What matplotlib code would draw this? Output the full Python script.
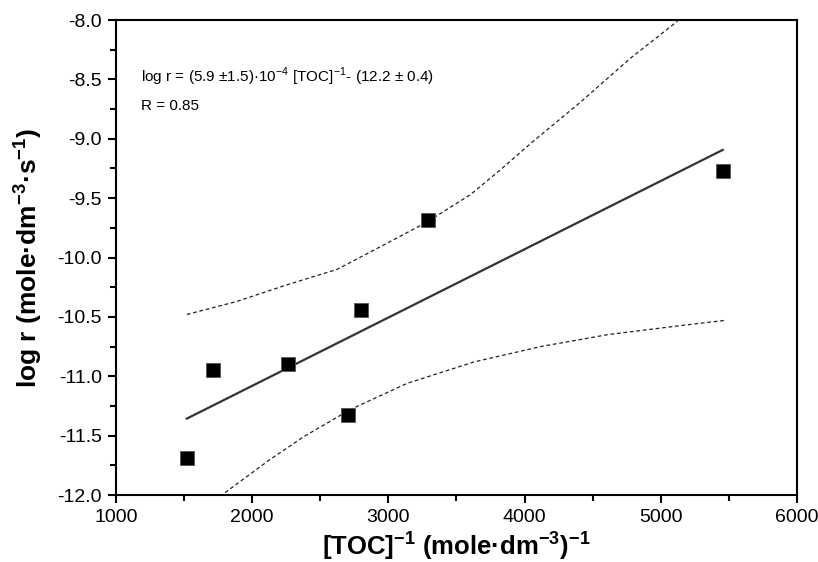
import numpy as np
import matplotlib
matplotlib.use("Agg")
import matplotlib.pyplot as plt

plt.rcParams["font.family"] = ["Liberation Sans", "DejaVu Sans"]
plt.rcParams["mathtext.fontset"] = "custom"
plt.rcParams["mathtext.rm"] = "Liberation Sans"
plt.rcParams["mathtext.bf"] = "Liberation Sans:bold"

# measured points
toc_inv = [1520, 1715, 2262, 2704, 2800, 3290, 5455]
log_r = [-11.685, -10.95, -10.90, -11.33, -10.44, -9.685, -9.27]

# dashed confidence curves
upper_x = [1520, 1887, 2255, 2623, 2990, 3285, 3603, 3824, 4044, 4412, 4779, 5123]
upper_y = [-10.48, -10.37, -10.23, -10.10, -9.88, -9.70, -9.47, -9.26, -9.04, -8.69, -8.32, -8.01]
lower_x = [1728, 1777, 2132, 2377, 2721, 3137, 3627, 4118, 4608, 5098, 5466]
lower_y = [-12.05, -12.0, -11.70, -11.51, -11.28, -11.06, -10.88, -10.75, -10.65, -10.58, -10.53]

fig = plt.figure(figsize=(8.18, 5.62), dpi=100)
ax = fig.add_axes([0.1418, 0.1192, 0.8325, 0.8452])

# linear fit
slope, icpt = np.polyfit(toc_inv, log_r, 1)
xf = np.array([min(toc_inv), max(toc_inv)])
ax.plot(xf, slope * xf + icpt, color="#333333", lw=1.6, zorder=2)

ax.plot(upper_x, upper_y, color="#222222", lw=0.9, ls=(0, (3, 2.2)), zorder=2)
ax.plot(lower_x, lower_y, color="#222222", lw=0.9, ls=(0, (3, 2.2)), zorder=2)

ax.plot(toc_inv, log_r, ls="none", marker="s", ms=10.5, color="black",
        markeredgecolor="#555555", markeredgewidth=0.6, zorder=3)

ax.set_xlim(1000, 6000)
ax.set_ylim(-12.0, -8.0)
ax.set_xticks(np.arange(1000, 6001, 1000))
ax.set_xticks(np.arange(1500, 6000, 1000), minor=True)
ax.set_yticks(np.arange(-12.0, -7.9, 0.5))
ax.set_yticks(np.arange(-11.75, -8.0, 0.5), minor=True)
ax.yaxis.set_major_formatter(matplotlib.ticker.FormatStrFormatter("%.1f"))

ax.tick_params(which="major", direction="out", length=6, width=1.5, labelsize=14,
               pad=4, top=False, right=False)
ax.tick_params(which="minor", direction="out", length=4, width=1.5,
               top=False, right=False)
for sp in ax.spines.values():
    sp.set_linewidth(1.5)

ax.set_xlabel(r"[TOC]$^{\mathbf{-1}}$ (mole·dm$^{\mathbf{-3}}$)$^{\mathbf{-1}}$",
              fontsize=18.5, fontweight="bold", labelpad=2)
ax.set_ylabel(r"log r (mole·dm$^{\mathbf{-3}}$·s$^{\mathbf{-1}}$)",
              fontsize=19, fontweight="bold", labelpad=10)

ax.text(0.037, 0.88, r"log r = (5.9 ±1.5)·10$^{-4}$ [TOC]$^{-1}$- (12.2 ± 0.4)",
        transform=ax.transAxes, fontsize=11, va="center", ha="left")
ax.text(0.037, 0.82, "R = 0.85", transform=ax.transAxes, fontsize=11,
        va="center", ha="left")

fig.savefig("out.png", dpi=100)
